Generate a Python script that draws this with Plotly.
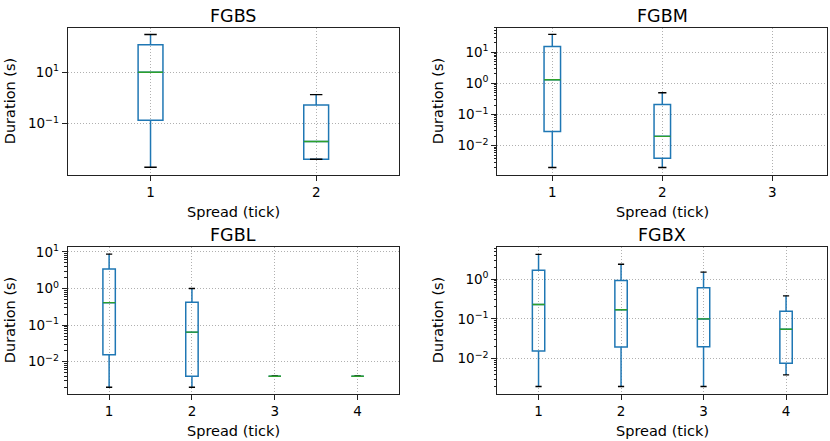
import plotly.graph_objects as go

# ---------------- data ----------------
titles = ["FGBS", "FGBM", "FGBL", "FGBX"]
n_categories = [2, 3, 4, 4]

fgbs_pos = [1, 2]
fgbs_whislo = [0.002, 0.0041]
fgbs_q1 = [0.134, 0.0041]
fgbs_med = [10.0, 0.02]
fgbs_q3 = [116.0, 0.525]
fgbs_whishi = [295.0, 1.34]

fgbm_pos = [1, 2]
fgbm_whislo = [0.002, 0.002]
fgbm_q1 = [0.0285, 0.004]
fgbm_med = [1.3, 0.02]
fgbm_q3 = [15.0, 0.21]
fgbm_whishi = [37.0, 0.5]

fgbl_pos = [1, 2, 3, 4]
fgbl_whislo = [0.002, 0.002, 0.004, 0.004]
fgbl_q1 = [0.0155, 0.004, 0.004, 0.004]
fgbl_med = [0.41, 0.064, 0.004, 0.004]
fgbl_q3 = [3.4, 0.42, 0.004, 0.004]
fgbl_whishi = [8.7, 1.0, 0.004, 0.004]

fgbx_pos = [1, 2, 3, 4]
fgbx_whislo = [0.002, 0.002, 0.002, 0.0039]
fgbx_q1 = [0.0155, 0.0196, 0.02, 0.0077]
fgbx_med = [0.23, 0.17, 0.1, 0.055]
fgbx_q3 = [1.67, 0.92, 0.61, 0.156]
fgbx_whishi = [4.2, 2.36, 1.5, 0.38]

y_ranges_log = [[-2.99, 2.73], [-2.93, 1.78], [-2.88, 1.146], [-2.885, 0.82]]
y_tick_exps = [[1, -1], [1, 0, -1, -2], [1, 0, -1, -2], [0, -1, -2]]
minor_on = [False, True, True, True]

panels = [
    (fgbs_pos, fgbs_whislo, fgbs_q1, fgbs_med, fgbs_q3, fgbs_whishi),
    (fgbm_pos, fgbm_whislo, fgbm_q1, fgbm_med, fgbm_q3, fgbm_whishi),
    (fgbl_pos, fgbl_whislo, fgbl_q1, fgbl_med, fgbl_q3, fgbl_whishi),
    (fgbx_pos, fgbx_whislo, fgbx_q1, fgbx_med, fgbx_q3, fgbx_whishi),
]

# ---------------- layout geometry ----------------
W, H = 830, 441
px_boxes = [  # left, right, top, bottom in pixels
    (67.7, 399.0, 23.0, 171.7),
    (497.3, 827.3, 23.0, 171.7),
    (67.7, 399.0, 244.3, 393.3),
    (497.3, 827.3, 244.3, 393.3),
]
ytitle_x = [10, 438, 10, 438]
xtitle_y = [209, 209, 431, 431]
title_y = [11, 11, 233, 233]

BOX_W = 0.15
CAP_W = BOX_W / 2
BLUE = "#1f77b4"
GREEN = "#2ca02c"
FONT = "DejaVu Sans"

fig = go.Figure()
annotations = []

def sup(e):
    s = str(e).replace("-", "\u2212")
    return f"10<sup>{s}</sup>"

for i, (pos, wlo, q1, med, q3, whi) in enumerate(panels):
    k = "" if i == 0 else str(i + 1)
    xa, ya = "x" + k, "y" + k
    fig.add_trace(go.Box(
        x=pos, q1=q1, median=med, q3=q3, lowerfence=wlo, upperfence=whi,
        width=BOX_W, whiskerwidth=0, boxpoints=False,
        line=dict(color=BLUE, width=1.5), fillcolor="rgba(0,0,0,0)",
        xaxis=xa, yaxis=ya, showlegend=False, hoverinfo="skip"))
    # caps
    cx, cy = [], []
    for p, lo, hi in zip(pos, wlo, whi):
        for v in (lo, hi):
            cx += [p - CAP_W / 2, p + CAP_W / 2, None]
            cy += [v, v, None]
    fig.add_trace(go.Scatter(x=cx, y=cy, mode="lines",
                             line=dict(color="black", width=1.4),
                             xaxis=xa, yaxis=ya, showlegend=False, hoverinfo="skip"))
    # medians
    mx, my = [], []
    for p, m in zip(pos, med):
        mx += [p - BOX_W / 2, p + BOX_W / 2, None]
        my += [m, m, None]
    fig.add_trace(go.Scatter(x=mx, y=my, mode="lines",
                             line=dict(color=GREEN, width=1.4),
                             xaxis=xa, yaxis=ya, showlegend=False, hoverinfo="skip"))

    l, r, t, b = px_boxes[i]
    n = n_categories[i]
    axis_common = dict(showline=True, mirror=True, linecolor="#222", linewidth=1,
                       ticks="outside", ticklen=5, tickcolor="#222", tickwidth=1,
                       showgrid=True, gridcolor="#b0b0b0", griddash="1px,2px", gridwidth=0.8,
                       zeroline=False, tickfont=dict(family=FONT, size=13.5, color="black"))
    fig.layout["xaxis" + k] = dict(
        domain=[l / W, r / W], anchor=ya, range=[0.5, n + 0.5],
        tickmode="array", tickvals=list(range(1, n + 1)),
        ticktext=[str(v) for v in range(1, n + 1)], **axis_common)
    exps = y_tick_exps[i]
    yaxis = dict(
        domain=[1 - b / H, 1 - t / H], anchor=xa, type="log", range=y_ranges_log[i],
        tickmode="array", tickvals=[10 ** e for e in exps], ticktext=[sup(e) for e in exps],
        **axis_common)
    if minor_on[i]:
        mv = [m * 10 ** e for e in range(-4, 4) for m in range(2, 10)]
        yaxis["minor"] = dict(tickmode="array", tickvals=mv, ticks="outside", ticklen=2.5,
                              tickcolor="#222", tickwidth=0.8, showgrid=False)
    fig.layout["yaxis" + k] = yaxis

    annotations.append(dict(text=titles[i], x=(l + r) / 2 / W, y=1 - title_y[i] / H,
                            xref="paper", yref="paper", showarrow=False,
                            xanchor="center", yanchor="middle",
                            font=dict(family=FONT, size=17.5, color="black")))
    annotations.append(dict(text="Spread (tick)", x=(l + r) / 2 / W, y=1 - xtitle_y[i] / H,
                            xref="paper", yref="paper", showarrow=False,
                            xanchor="center", yanchor="middle",
                            font=dict(family=FONT, size=14.5, color="black")))
    annotations.append(dict(text="Duration (s)", x=ytitle_x[i] / W, y=1 - (t + b) / 2 / H,
                            xref="paper", yref="paper", showarrow=False, textangle=-90,
                            xanchor="center", yanchor="middle",
                            font=dict(family=FONT, size=14.5, color="black")))

fig.update_layout(width=W, height=H, margin=dict(l=0, r=0, t=0, b=0),
                  paper_bgcolor="white", plot_bgcolor="white",
                  annotations=annotations, showlegend=False)

fig.write_html("out.html", config={"displayModeBar": False},
               post_script="document.body.style.margin='0';document.body.style.overflow='hidden';")
